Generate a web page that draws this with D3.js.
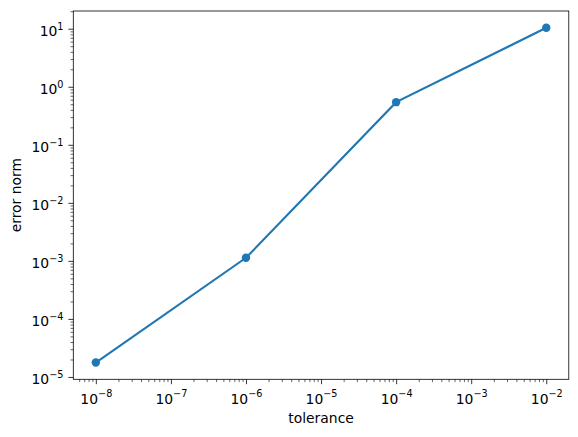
<!DOCTYPE html>
<html>
<head>
<meta charset="utf-8">
<script src="https://cdn.jsdelivr.net/npm/d3@7"></script>
<style>
  body { margin: 0; background: #fff; }
  text { font-family: "DejaVu Sans", sans-serif; fill: #000; }
</style>
</head>
<body>
<div id="chart"></div>
<script>
const tolerance = [1e-8, 1e-6, 1e-4, 1e-2]
const errorNorm = [1.77e-5, 1.13e-3, 0.543, 10.4]
const xTickExps = [-8, -7, -6, -5, -4, -3, -2]
const yTickExps = [-5, -4, -3, -2, -1, 0, 1]

const width = 578
const height = 437
const margin = { top: 11, right: 9.2, bottom: 57.7, left: 73.3 }
const color = '#1f77b4'

const svg = d3.select('#chart').append('svg')
  .attr('width', width)
  .attr('height', height)

// log-space margins like matplotlib (5%)
const pad = (lo, hi) => {
  const a = Math.log10(lo), b = Math.log10(hi), m = (b - a) * 0.05
  return [Math.pow(10, a - m), Math.pow(10, b + m)]
}

const x = d3.scaleLog()
  .domain(pad(d3.min(tolerance), d3.max(tolerance)))
  .range([margin.left, width - margin.right])

const y = d3.scaleLog()
  .domain(pad(d3.min(errorNorm), d3.max(errorNorm)))
  .range([height - margin.bottom, margin.top])

const minor = (scale) => {
  const [lo, hi] = scale.domain()
  const out = []
  for (let e = Math.floor(Math.log10(lo)); e <= Math.ceil(Math.log10(hi)); e++) {
    for (let k = 2; k <= 9; k++) {
      const v = k * Math.pow(10, e)
      if (v >= lo && v <= hi) out.push(v)
    }
  }
  return out
}

const sup = (sel, e) => {
  sel.text(null)
  sel.append('tspan').text('10')
  sel.append('tspan')
    .attr('dy', -6.5)
    .style('font-size', '9.7px')
    .text(String(e).replace('-', '\u2212'))
}

// x axis
const xAxis = svg.append('g')
  .attr('transform', `translate(0,${height - margin.bottom})`)
  .call(d3.axisBottom(x).tickValues(xTickExps.map(e => Math.pow(10, e))).tickSize(4.9).tickFormat(''))
xAxis.select('.domain').remove()
xAxis.selectAll('line').attr('stroke', '#000').attr('stroke-width', 0.8)
xAxis.selectAll('.tick').each(function (d) {
  const t = d3.select(this).append('text')
    .attr('y', 24.6)
    .attr('text-anchor', 'middle')
    .style('font-size', '13.9px')
  sup(t, Math.round(Math.log10(d)))
})
svg.append('g')
  .attr('transform', `translate(0,${height - margin.bottom})`)
  .call(d3.axisBottom(x).tickValues(minor(x)).tickSize(2.8).tickFormat(''))
  .call(g => g.select('.domain').remove())
  .selectAll('line').attr('stroke', '#000').attr('stroke-width', 0.6)

// y axis
const yAxis = svg.append('g')
  .attr('transform', `translate(${margin.left},0)`)
  .call(d3.axisLeft(y).tickValues(yTickExps.map(e => Math.pow(10, e))).tickSize(4.9).tickFormat(''))
yAxis.select('.domain').remove()
yAxis.selectAll('line').attr('stroke', '#000').attr('stroke-width', 0.8)
yAxis.selectAll('.tick').each(function (d) {
  const t = d3.select(this).append('text')
    .attr('x', -9.8)
    .attr('y', 7)
    .attr('text-anchor', 'end')
    .style('font-size', '13.9px')
  sup(t, Math.round(Math.log10(d)))
})
svg.append('g')
  .attr('transform', `translate(${margin.left},0)`)
  .call(d3.axisLeft(y).tickValues(minor(y)).tickSize(2.8).tickFormat(''))
  .call(g => g.select('.domain').remove())
  .selectAll('line').attr('stroke', '#000').attr('stroke-width', 0.6)

// frame
svg.append('rect')
  .attr('x', margin.left)
  .attr('y', margin.top)
  .attr('width', width - margin.left - margin.right)
  .attr('height', height - margin.top - margin.bottom)
  .attr('fill', 'none')
  .attr('stroke', '#000')
  .attr('stroke-width', 0.8)

// data
const data = tolerance.map((t, i) => ({ t, e: errorNorm[i] }))
svg.append('path')
  .datum(data)
  .attr('fill', 'none')
  .attr('stroke', color)
  .attr('stroke-width', 2.1)
  .attr('d', d3.line().x(d => x(d.t)).y(d => y(d.e)))

svg.selectAll('circle.pt').data(data).enter()
  .append('circle')
  .classed('pt', true)
  .attr('cx', d => x(d.t))
  .attr('cy', d => y(d.e))
  .attr('r', 4.2)
  .attr('fill', color)

// labels
svg.append('text')
  .attr('x', (margin.left + width - margin.right) / 2)
  .attr('y', 423)
  .attr('text-anchor', 'middle')
  .style('font-size', '13.9px')
  .text('tolerance')

svg.append('text')
  .attr('transform', `translate(21,${(margin.top + height - margin.bottom) / 2}) rotate(-90)`)
  .attr('text-anchor', 'middle')
  .style('font-size', '13.9px')
  .text('error norm')
</script>
</body>
</html>
